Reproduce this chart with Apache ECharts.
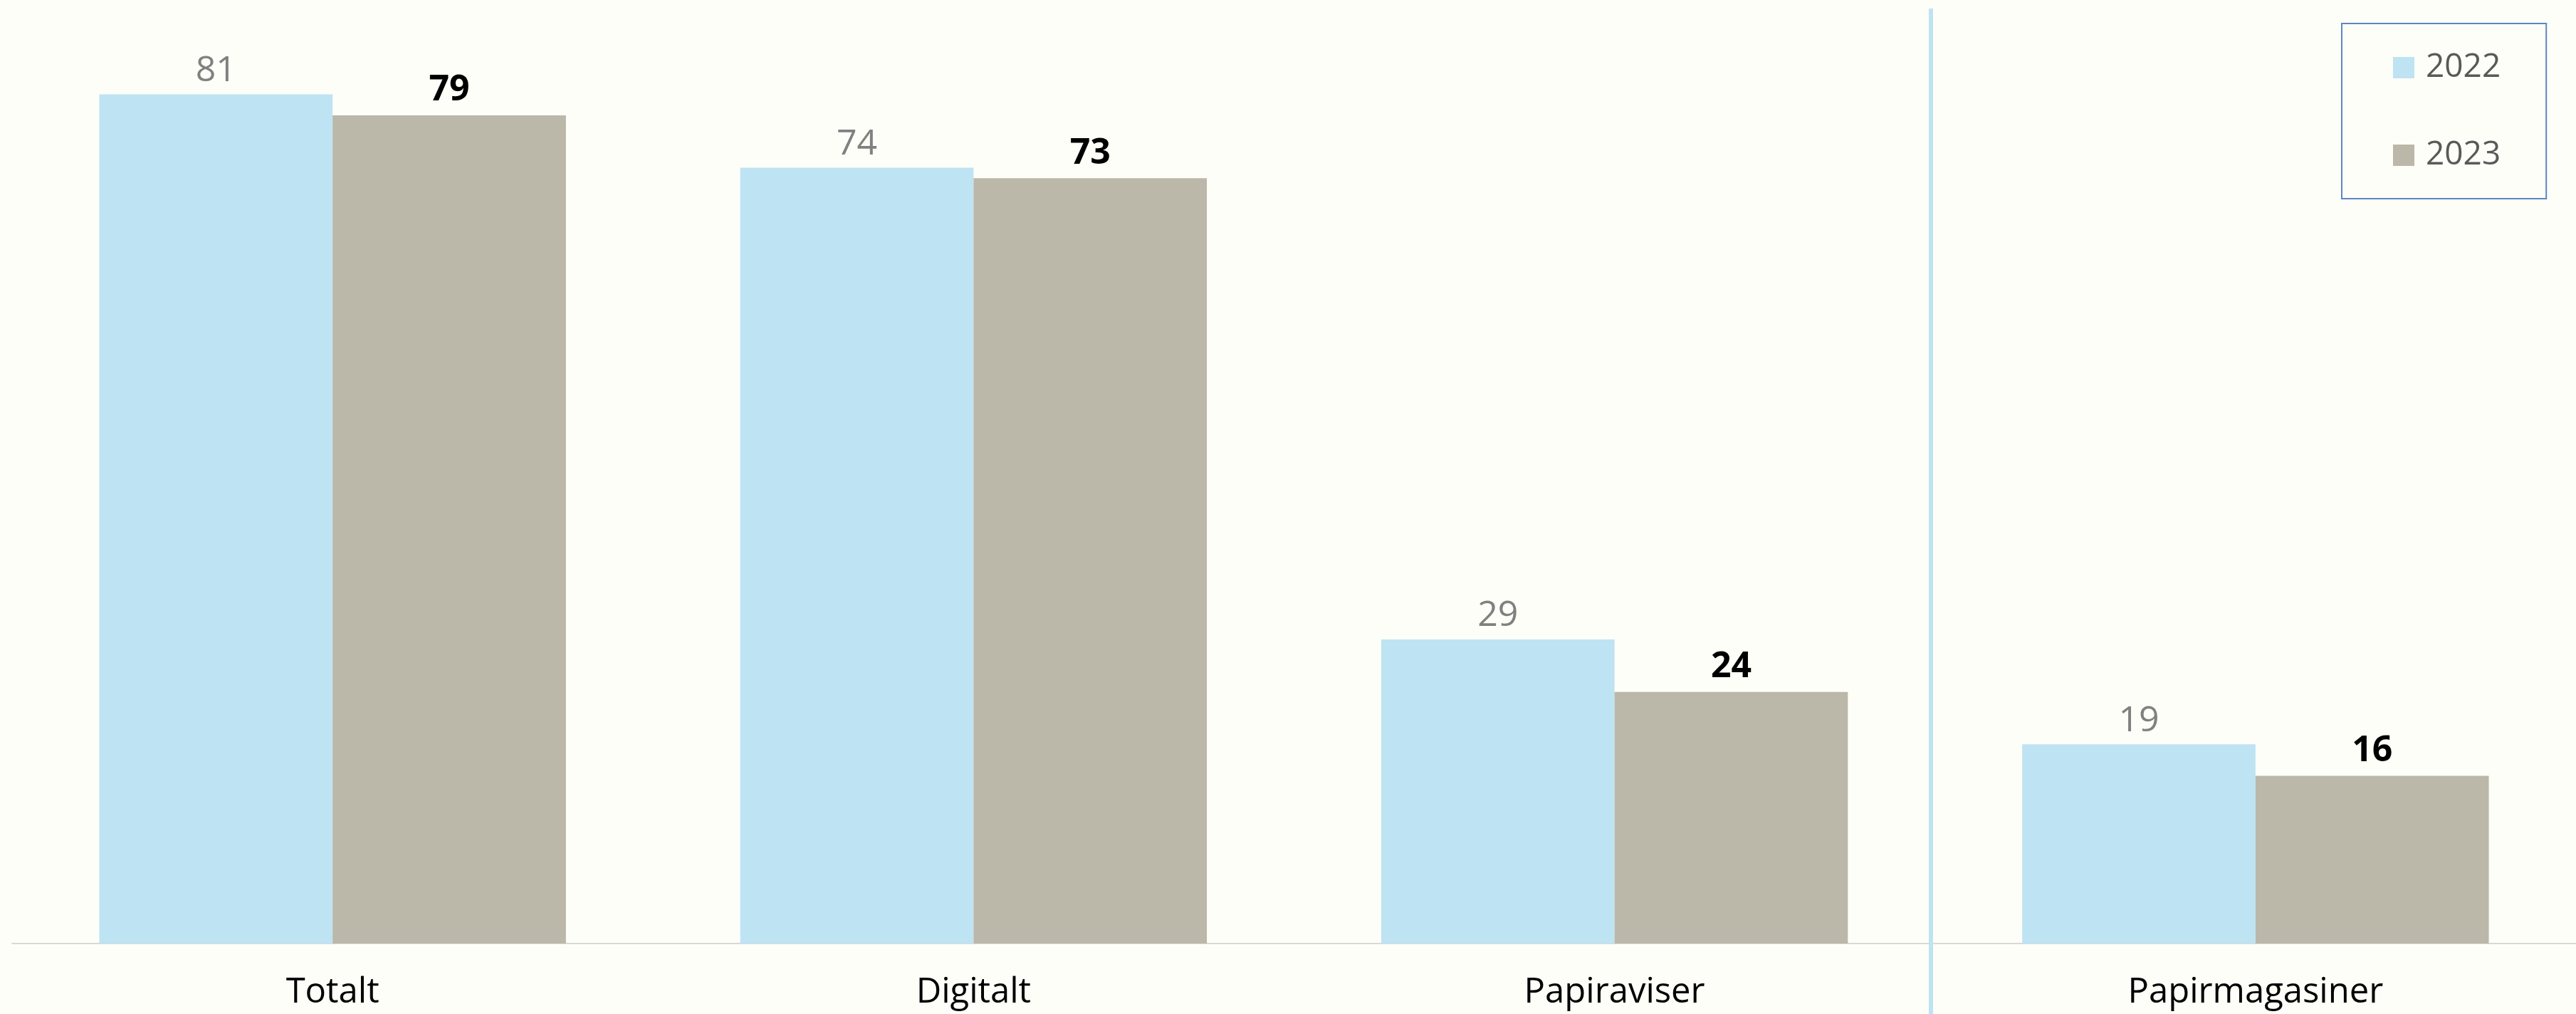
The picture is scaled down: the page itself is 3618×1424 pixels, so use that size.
<!DOCTYPE html>
<html>
<head>
<meta charset="utf-8">
<title>Chart</title>
<script src="https://cdn.jsdelivr.net/npm/echarts@6/dist/echarts.min.js"></script>
<style>
    html, body {
        margin: 0;
        padding: 0;
        background: #FEFEF8;
    }
    #chart {
        width: 3618px;
        height: 1424px;
    }
</style>
</head>
<body>
<div id="chart"></div>
<script>
const categories = ['Totalt', 'Digitalt', 'Papiraviser', 'Papirmagasiner'];
const seriesNames = ['2022', '2023'];
const values2022 = [81, 74, 29, 19];
const values2023 = [79, 73, 24, 16];

const FONT = '"Open Sans", "Liberation Sans", sans-serif';

const chart = echarts.init(document.getElementById('chart'));
chart.setOption({
    backgroundColor: '#FEFEF8',
    animation: false,
    textStyle: {
        fontFamily: FONT
    },
    legend: {
        orient: 'vertical',
        left: 3289,
        top: 33,
        padding: [37, 64, 36, 72],
        itemGap: 73,
        itemWidth: 30,
        itemHeight: 30,
        icon: 'rect',
        borderColor: '#5A87C6',
        borderWidth: 2,
        data: seriesNames,
        textStyle: {
            fontFamily: FONT,
            fontSize: 46,
            lineHeight: 50,
            color: '#595959',
            padding: [0, 0, 0, 11]
        }
    },
    grid: {
        left: 17,
        right: 0,
        top: 0,
        bottom: 99,
        containLabel: false
    },
    xAxis: {
        type: 'category',
        data: categories,
        axisLine: {
            lineStyle: {
                color: '#D9D9D9',
                width: 2
            }
        },
        axisTick: {
            show: false
        },
        axisLabel: {
            margin: 45,
            fontFamily: FONT,
            fontSize: 49,
            color: '#000000'
        }
    },
    yAxis: {
        type: 'value',
        min: 0,
        max: 90,
        show: false,
        splitLine: {
            show: false
        }
    },
    series: [
        {
            name: seriesNames[0],
            type: 'bar',
            barGap: 0,
            barCategoryGap: '27.2%',
            itemStyle: {
                color: '#BEE3F3'
            },
            label: {
                show: true,
                position: 'top',
                distance: 8,
                fontFamily: FONT,
                fontSize: 50,
                color: '#808080'
            },
            data: values2022
        },
        {
            name: seriesNames[1],
            type: 'bar',
            barGap: 0,
            barCategoryGap: '27.2%',
            itemStyle: {
                color: '#BBB7A9'
            },
            label: {
                show: true,
                position: 'top',
                distance: 10,
                fontFamily: FONT,
                fontSize: 50,
                fontWeight: 'bold',
                color: '#000000'
            },
            data: values2023
        }
    ]
});

// separator between the newspaper categories and the magazine one
const a = chart.convertToPixel({xAxisIndex: 0}, categories[2]);
const b = chart.convertToPixel({xAxisIndex: 0}, categories[3]);
const sepX = Math.round((a + b) / 2) - 6;
chart.setOption({
    graphic: [{
        type: 'line',
        shape: {x1: sepX, y1: 12, x2: sepX, y2: 1424},
        style: {
            stroke: '#BEE3F3',
            lineWidth: 6
        },
        z: 10
    }]
});
</script>
</body>
</html>
